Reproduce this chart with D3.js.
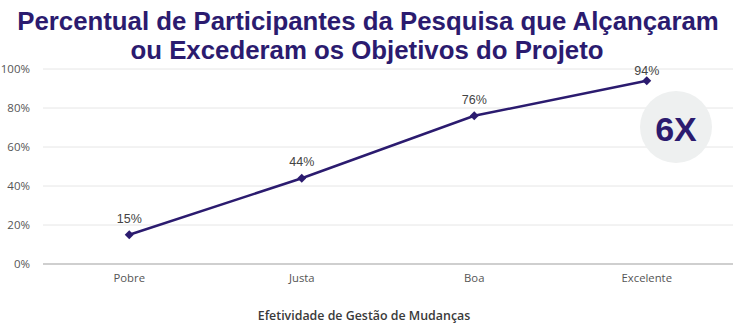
<!DOCTYPE html>
<html><head><meta charset="utf-8">
<script src="https://cdn.jsdelivr.net/npm/d3@7"></script>
<style>body{margin:0;background:#fff}svg{display:block}</style>
</head><body>
<script>
const categories = ["Pobre", "Justa", "Boa", "Excelente"];
const values = [15, 44, 76, 94];
const yTicks = [0, 20, 40, 60, 80, 100];
const titleLines = ["Percentual de Participantes da Pesquisa que Alçançaram", "ou Excederam os Objetivos do Projeto"];
const xTitle = "Efetividade de Gestão de Mudanças";
const badge = "6X";

const W = 733, H = 328;
const m = {left: 43, right: 0, top: 69, bottom: 64};
const svg = d3.select("body").append("svg").attr("width", W).attr("height", H);
const navy = "#2b1b6f";

const x = d3.scaleBand().domain(categories).range([m.left, W - m.right]);
const y = d3.scaleLinear().domain([0, 100]).range([H - m.bottom, m.top]);

// title
const tt = svg.append("text").attr("text-anchor", "middle")
  .attr("font-family", "Liberation Sans, Arial, sans-serif").attr("font-weight", "bold")
  .attr("font-size", 25.8).attr("fill", navy);
tt.append("tspan").attr("x", 368).attr("y", 30).text(titleLines[0]);
tt.append("tspan").attr("x", 367).attr("y", 59).text(titleLines[1]);

// gridlines
svg.append("g").selectAll("line").data(yTicks.filter(d => d > 0)).join("line")
  .attr("x1", m.left).attr("x2", W - m.right)
  .attr("y1", d => y(d)).attr("y2", d => y(d))
  .attr("stroke", "#e6e6e6").attr("stroke-width", 1);
svg.append("line").attr("x1", m.left).attr("x2", W).attr("y1", y(0)).attr("y2", y(0))
  .attr("stroke", "#bfbfbf").attr("stroke-width", 1.5);

// y axis
const yAxis = d3.axisLeft(y).tickValues(yTicks).tickFormat(d => d + "%").tickSize(0).tickPadding(0);
const ya = svg.append("g").attr("transform", `translate(30,0)`).call(yAxis);
ya.select(".domain").remove();
ya.selectAll("text").attr("font-family", "Open Sans, sans-serif").attr("font-size", 11.5).attr("fill", "#555");

// x axis
const xAxis = d3.axisBottom(x).tickSize(0).tickPadding(0);
const xa = svg.append("g").attr("transform", `translate(0,${y(0) + 10})`).call(xAxis);
xa.select(".domain").remove();
xa.selectAll("text").attr("font-family", "Open Sans, sans-serif").attr("font-size", 11.3).attr("fill", "#555");

// x title
svg.append("text").attr("x", 364).attr("y", 320).attr("text-anchor", "middle")
  .attr("font-family", "Open Sans, sans-serif").attr("font-weight", 600).attr("font-size", 12.4)
  .attr("fill", "#3a3a3a").text(xTitle);

// line
const cx = d => x(d) + x.bandwidth() / 2;
const data = categories.map((c, i) => ({c, v: values[i]}));
svg.append("path").datum(data)
  .attr("d", d3.line().x(d => cx(d.c)).y(d => y(d.v)))
  .attr("fill", "none").attr("stroke", navy).attr("stroke-width", 2.5);
svg.append("g").selectAll("path").data(data).join("path")
  .attr("d", d3.symbol().type(d3.symbolSquare).size(40))
  .attr("transform", d => `translate(${cx(d.c)},${y(d.v)}) rotate(45)`)
  .attr("fill", navy);
svg.append("g").selectAll("text").data(data).join("text")
  .attr("x", d => cx(d.c)).attr("y", d => Math.max(y(d.v) - 12, 75)).attr("text-anchor", "middle")
  .attr("font-family", "Liberation Sans, Arial, sans-serif").attr("font-size", 12.5)
  .attr("fill", "#444").text(d => d.v + "%");

// badge
svg.append("circle").attr("cx", 676).attr("cy", 127).attr("r", 36).attr("fill", "#eef0f0");
svg.append("text").attr("x", 676).attr("y", 141).attr("text-anchor", "middle")
  .attr("font-family", "Liberation Sans, Arial, sans-serif").attr("font-weight", "bold")
  .attr("font-size", 34).attr("fill", navy).text(badge);
</script>
</body></html>
